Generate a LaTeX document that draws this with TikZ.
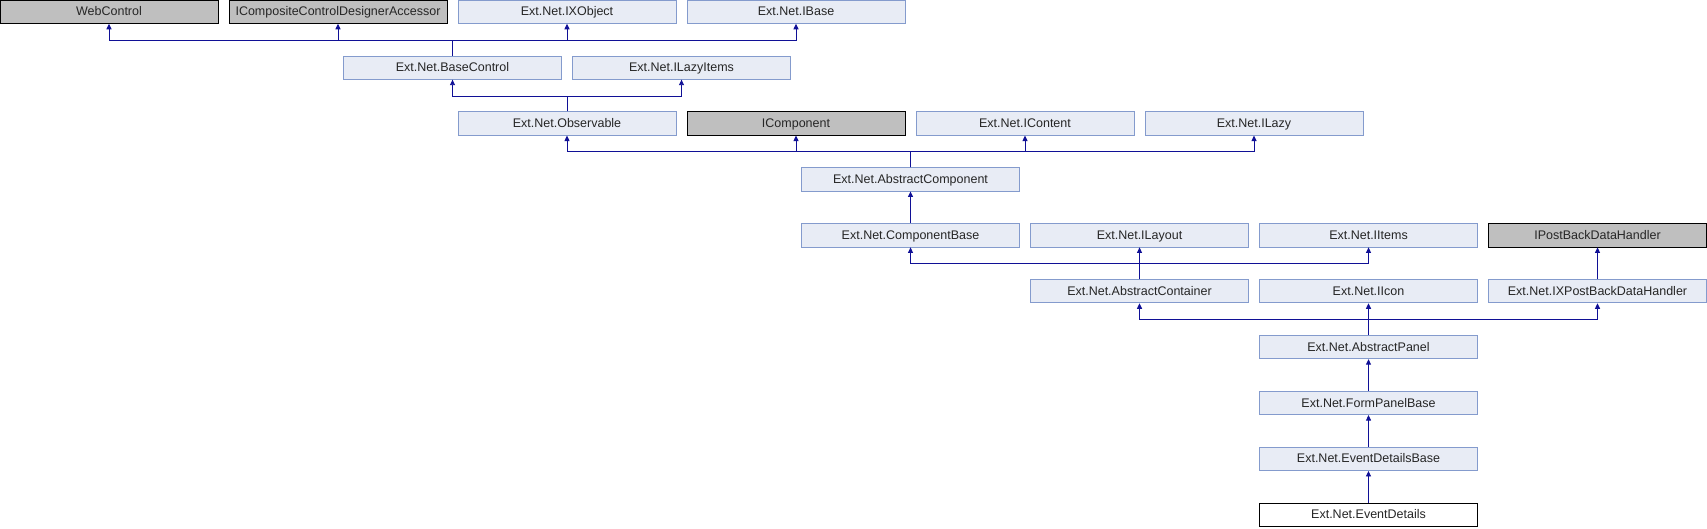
\documentclass[tikz,border=0pt]{standalone}
\usepackage{fontspec}
\setmainfont{Liberation Sans}
\usetikzlibrary{arrows.meta}
\definecolor{boxfill}{RGB}{232,236,245}
\definecolor{boxline}{RGB}{132,155,205}
\definecolor{grayfill}{RGB}{191,191,191}
\definecolor{edgecol}{RGB}{16,16,150}
\tikzset{
  cls/.style={draw=boxline, fill=boxfill, minimum width=218pt, minimum height=23.3pt,
    inner sep=0pt, text height=9.2pt, text depth=1.2pt,
    font=\fontsize{12.5}{14}\selectfont, text=black!85, line width=0.8pt},
  extcls/.style={cls, draw=black, fill=grayfill},
  mecls/.style={cls, draw=black, fill=white},
  inh/.style={draw=edgecol, line width=0.9pt, -{Triangle[length=5.5pt,width=5pt]}}
}
\begin{document}
\begin{tikzpicture}[x=1pt,y=-1pt]
\useasboundingbox (0,0) rectangle (1707,528);
% row 0
\node[extcls] (wc)  at (109,11.7)    {WebControl};
\node[extcls] (icc) at (338,11.7)    {ICompositeControlDesignerAccessor};
\node[cls]    (ixo) at (567,11.7)    {Ext.Net.IXObject};
\node[cls]    (ib)  at (796,11.7)    {Ext.Net.IBase};
% row 1
\node[cls] (bc)  at (452.5,67.6) {Ext.Net.BaseControl};
\node[cls] (ili) at (681.5,67.6) {Ext.Net.ILazyItems};
% row 2
\node[cls]    (obs) at (567,123.5)  {Ext.Net.Observable};
\node[extcls] (ic)  at (796,123.5)  {IComponent};
\node[cls]    (ico) at (1025,123.5) {Ext.Net.IContent};
\node[cls]    (il)  at (1254,123.5) {Ext.Net.ILazy};
% row 3
\node[cls] (ac) at (910.5,179.4) {Ext.Net.AbstractComponent};
% row 4
\node[cls]    (cb)  at (910.5,235.3)  {Ext.Net.ComponentBase};
\node[cls]    (ily) at (1139.5,235.3) {Ext.Net.ILayout};
\node[cls]    (iit) at (1368.5,235.3) {Ext.Net.IItems};
\node[extcls] (ipb) at (1597.5,235.3) {IPostBackDataHandler};
% row 5
\node[cls] (acn) at (1139.5,291.2) {Ext.Net.AbstractContainer};
\node[cls] (iic) at (1368.5,291.2) {Ext.Net.IIcon};
\node[cls] (ixp) at (1597.5,291.2) {Ext.Net.IXPostBackDataHandler};
% rows 6-9
\node[cls]   (ap)  at (1368.5,347.1) {Ext.Net.AbstractPanel};
\node[cls]   (fpb) at (1368.5,403.0) {Ext.Net.FormPanelBase};
\node[cls]   (edb) at (1368.5,458.9) {Ext.Net.EventDetailsBase};
\node[mecls] (ed)  at (1368.5,514.8) {Ext.Net.EventDetails};
% edges
\foreach \p in {wc,icc,ixo,ib} \draw[inh] (bc.north) -- ++(0,-15.5) -| (\p.south);
\foreach \p in {bc,ili} \draw[inh] (obs.north) -- ++(0,-15.5) -| (\p.south);
\foreach \p in {obs,ic,ico,il} \draw[inh] (ac.north) -- ++(0,-15.5) -| (\p.south);
\draw[inh] (cb.north) -- (ac.south);
\foreach \p in {cb,ily,iit} \draw[inh] (acn.north) -- ++(0,-15.5) -| (\p.south);
\draw[inh] (ixp.north) -- (ipb.south);
\foreach \p in {acn,iic,ixp} \draw[inh] (ap.north) -- ++(0,-15.5) -| (\p.south);
\draw[inh] (fpb.north) -- (ap.south);
\draw[inh] (edb.north) -- (fpb.south);
\draw[inh] (ed.north) -- (edb.south);
\end{tikzpicture}
\end{document}
